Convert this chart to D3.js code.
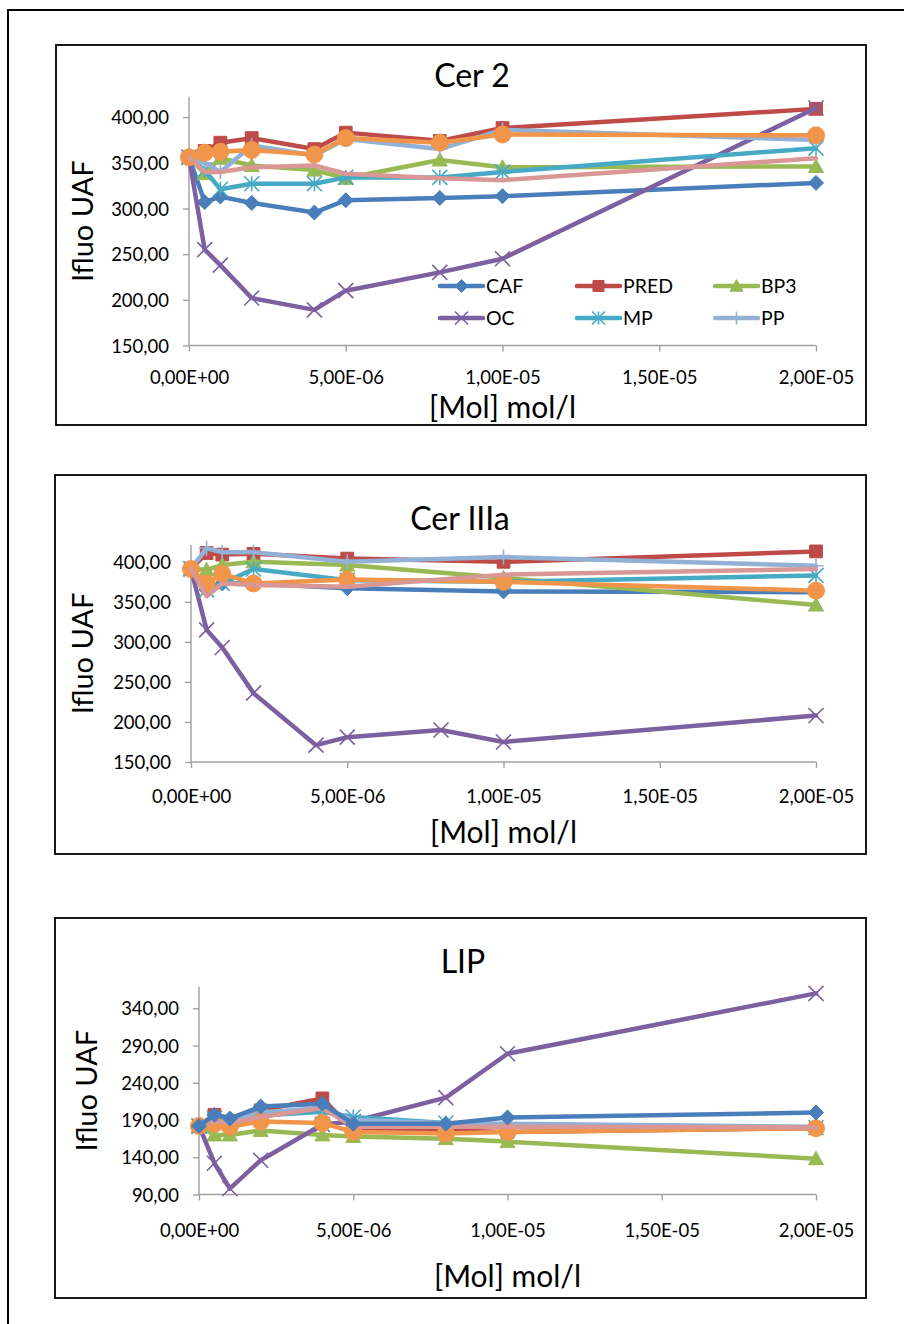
<!DOCTYPE html>
<html>
<head>
<meta charset="utf-8">
<script src="https://cdn.jsdelivr.net/npm/d3@7"></script>
<style>
    body { margin: 0; background: #fff; }
    svg { display: block; font-family: Lato, 'Open Sans', sans-serif; }
</style>
</head>
<body>
<svg id="chart" width="904" height="1324"></svg>
<script>
// concentrations (mol/l), same for every panel
const conc = [0, 5e-7, 1e-6, 2e-6, 4e-6, 5e-6, 8e-6, 1e-5, 2e-5];

// series names (the last two are not in the legend)
const seriesNames = ['CAF', 'PRED', 'BP3', 'OC', 'MP', 'PP', 'S7', 'S8'];

// Ifluo UAF values, one row per series, in the order of seriesNames
// null = no measurement at that concentration (line is joined across it)
const cer2Values = [
    [356, 307, 313, 306, 295.5, 309, 311.5, 313.5, 328],
    [356, 363, 372, 377, 365, 383, 374, 388, 409],
    [356, 338, 355, 347, 342, 333, 353, 345, 346],
    [356, 255, 238, 202, 189, 210, 230, 245, 410],
    [356, 342, 321, 327, 327, 334, 334, 340, 366],
    [356, 350, 340, 369, 358, 376, 365, 386, 375],
    [356, 361, 362, 364, 359, 377, 372, 381, 380],
    [356, 340, 340, 345, 347, 338, 333, 331, 355],
];
const cer3aValues = [
    [391, 365, 373, 373, null, 367, null, 363, 362],
    [391, 411, 409, 410, null, 404, null, 400, 413],
    [391, 390, 396, 400, null, 396, null, 380, 346],
    [391, 315, 293, 236, 171, 181, 190, 175, 208],
    [391, 365, 373, 391, null, 377, null, 375, 383],
    [391, 417, 412, 412, null, 400, null, 406, 395],
    [391, 373, 385, 373, null, 378, null, 375, 364],
    [391, 357, 373, 371, null, 369, null, 384, 391],
];
const lipValues = [
    [182, 197, 192, 208, 212, 185, 185, 193.5, 200],
    [182, 197, 188, 203, 219, 176, 176, 174, 179],
    [182, 170, 170, 176, 170, 168, 165, 161, 138],
    [182, 132, 98, 136, 184, 188, 220, 279, 360],
    [182, 192, 188, 196, 201, 194, 186, 184, 180],
    [182, 192, 188, 200, 206, 190, 186, 185, 181],
    [182, 185, 181, 188, 186, 174, 172, 174, 179],
    [182, 188, 186, 194, 206, 181, 181, 181, 180],
];

const xTicks = [0, 5e-6, 1e-5, 1.5e-5, 2e-5];

// styles per series
const seriesColors = ['#4A7EBB', '#BE4B48', '#98B954', '#7D60A0', '#46AAC5', '#93B1D5', '#F0954A', '#D99795'];
const seriesMarkers = ['diamond', 'square', 'triangle', 'x', 'star', 'plus', 'circle', 'none'];

const markerPath = {
    diamond: (r) => `M0,${-r}L${r},0L0,${r}L${-r},0Z`,
    square: (r) => `M${-r * 0.85},${-r * 0.85}H${r * 0.85}V${r * 0.85}H${-r * 0.85}Z`,
    triangle: (r) => `M0,${-r}L${r},${r * 0.8}L${-r},${r * 0.8}Z`,
    circle: (r) => `M${r},0A${r},${r} 0 1,1 ${-r},0A${r},${r} 0 1,1 ${r},0Z`,
    x: (r) => `M${-r},${-r}L${r},${r}M${-r},${r}L${r},${-r}`,
    star: (r) => `M${-r},${-r}L${r},${r}M${-r},${r}L${r},${-r}M0,${-r}L0,${r}`,
    plus: (r) => `M0,${-r}L0,${r}M${-r},0L${r},0`,
};
const filled = { diamond: true, square: true, triangle: true, circle: true };

const fmtY = (v) => d3.format('.2f')(v).replace('.', ',');
const fmtX = (v) => {
    const [m, e] = v.toExponential(2).split('e');
    const n = +e;
    return m.replace('.', ',') + 'E' + (n < 0 ? '-' : '+') + String(Math.abs(n)).padStart(2, '0');
};

const svg = d3.select('#chart');

// outer frame
svg.append('rect')
    .attr('x', 8).attr('y', 10).attr('width', 1000).attr('height', 1400)
    .attr('fill', 'none').attr('stroke', '#000').attr('stroke-width', 2);

const charts = [
    {
        title: 'Cer 2', values: cer2Values, frame: [56, 45, 866, 425],
        xr: [189, 816], yd: [150, 422], yr: [345.5, 97], yTicks: d3.range(150, 401, 50),
        titleX: 472, titleY: 87, xTickY: 384, xTitleY: 418, yTitleX: 93,
        order: [0, 1, 2, 3, 4, 5, 6, 7], legend: true,
    },
    {
        title: 'Cer IIIa', values: cer3aValues, frame: [55, 475, 866, 854],
        xr: [191, 816], yd: [150, 421], yr: [762, 545], yTicks: d3.range(150, 401, 50),
        titleX: 460, titleY: 530, xTickY: 803, xTitleY: 843, yTitleX: 93,
        order: [0, 1, 2, 3, 4, 5, 6, 7], legend: false,
    },
    {
        title: 'LIP', values: lipValues, frame: [55, 918, 866, 1298],
        xr: [199, 816], yd: [90, 369], yr: [1194.5, 986.7], yTicks: d3.range(90, 341, 50),
        titleX: 463, titleY: 973, xTickY: 1237, xTitleY: 1287, yTitleX: 97,
        order: [1, 2, 3, 4, 5, 6, 7, 0], legend: false,
    },
];

const axisColor = '#A0A0A0';

charts.forEach((c) => {
    const g = svg.append('g');
    const [fx0, fy0, fx1, fy1] = c.frame;
    g.append('rect')
        .attr('x', fx0).attr('y', fy0).attr('width', fx1 - fx0).attr('height', fy1 - fy0)
        .attr('fill', '#fff').attr('stroke', '#000').attr('stroke-width', 1.8);

    const x = d3.scaleLinear().domain([0, 2e-5]).range(c.xr);
    const y = d3.scaleLinear().domain(c.yd).range(c.yr);

    // y axis
    const yAxis = d3.axisLeft(y).tickValues(c.yTicks).tickFormat(fmtY).tickSize(6).tickPadding(14);
    const gy = g.append('g').attr('transform', `translate(${c.xr[0]},0)`).call(yAxis);
    // x axis
    const xAxis = d3.axisBottom(x).tickValues(xTicks).tickFormat(fmtX).tickSize(6).tickPadding(0);
    const gx = g.append('g').attr('transform', `translate(0,${c.yr[0]})`).call(xAxis);

    [gx, gy].forEach((a) => {
        a.select('.domain').attr('stroke', axisColor).attr('stroke-width', 1.4);
        a.selectAll('.tick line').attr('stroke', axisColor).attr('stroke-width', 1.4);
        a.selectAll('.tick text').attr('fill', '#000').style('font-size', '18.5px').style('font-family', 'Lato');
    });
    // domain paths without outer ticks
    gy.select('.domain').attr('d', `M0,${c.yr[0]}V${c.yr[1]}`);
    gx.select('.domain').attr('d', `M${c.xr[0]},0H${c.xr[1]}`);
    gx.selectAll('.tick text').attr('dy', null).attr('y', c.xTickY - c.yr[0]);
    gy.selectAll('.tick text').attr('dy', '0.36em');

    // lines (gaps are joined, like Excel "connect data points")
    const line = d3.line().x((d) => x(d[0])).y((d) => y(d[1]));
    c.order.forEach((si) => {
        const pts = c.values[si].map((v, i) => [conc[i], v]).filter((d) => d[1] != null);
        const col = seriesColors[si];
        const mk = seriesMarkers[si];
        g.append('path')
            .attr('d', line(pts))
            .attr('fill', 'none').attr('stroke', col).attr('stroke-width', 4.5)
            .attr('stroke-linejoin', 'round').attr('stroke-linecap', 'round');
        if (mk !== 'none') {
            const r = mk === 'circle' ? 8.5 : 7.5;
            g.selectAll(null).data(pts).join('path')
                .attr('transform', (d) => `translate(${x(d[0])},${y(d[1])})`)
                .attr('d', markerPath[mk](r))
                .attr('fill', filled[mk] ? col : 'none')
                .attr('stroke', col).attr('stroke-width', filled[mk] ? 1 : 1.6);
        }
    });

    // titles
    g.append('text').attr('x', c.titleX).attr('y', c.titleY)
        .attr('text-anchor', 'middle').style('font-size', '32px').text(c.title);
    g.append('text').attr('x', (c.xr[0] + c.xr[1]) / 2).attr('y', c.xTitleY)
        .attr('text-anchor', 'middle').style('font-size', '30px').text('[Mol] mol/l');
    g.append('text')
        .attr('transform', `translate(${c.yTitleX},${(c.yr[0] + c.yr[1]) / 2}) rotate(-90)`)
        .attr('text-anchor', 'middle').style('font-size', '29px').text('Ifluo UAF');

    if (c.legend) {
        const cols = [440, 577, 715];
        const rows = [286, 318];
        seriesNames.slice(0, 6).forEach((name, i) => {
            const lx = cols[i % 3], ly = rows[Math.floor(i / 3)];
            const col = seriesColors[i], mk = seriesMarkers[i];
            const lg = g.append('g');
            lg.append('line').attr('x1', lx).attr('x2', lx + 43).attr('y1', ly).attr('y2', ly)
                .attr('stroke', col).attr('stroke-width', 4.5).attr('stroke-linecap', 'round');
            lg.append('path').attr('transform', `translate(${lx + 21.5},${ly})`)
                .attr('d', markerPath[mk](6.5))
                .attr('fill', filled[mk] ? col : 'none')
                .attr('stroke', col).attr('stroke-width', filled[mk] ? 1 : 1.6);
            lg.append('text').attr('x', lx + 46).attr('y', ly).attr('dy', '0.36em')
                .style('font-size', '19.5px').text(name);
        });
    }
});
</script>
</body>
</html>
